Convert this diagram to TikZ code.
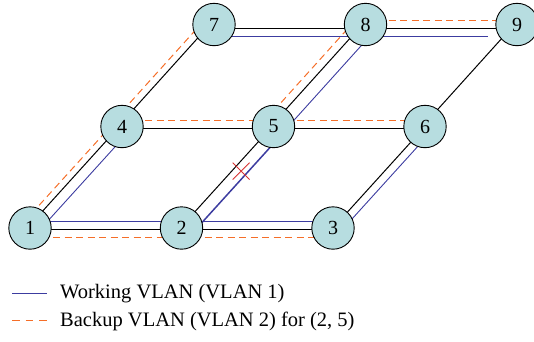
\documentclass[tikz,border=0pt]{standalone}
\usepackage{fontspec}
\setmainfont{Liberation Serif}
\usetikzlibrary{calc,backgrounds,shapes.misc}
\definecolor{nodefill}{RGB}{183,221,224}
\definecolor{vlanblue}{RGB}{60,60,160}
\definecolor{vlanorange}{RGB}{245,110,40}
\definecolor{cutred}{RGB}{215,50,50}

% line between two nodes, shifted sideways by #4 (positive = left of the #2 -> #3 direction)
\newcommand\lnk[4][]{\draw[#1] ($(#2.center)!#4!90:(#3.center)$) -- ($(#3.center)!#4!270:(#2.center)$);}

\begin{document}
\begin{tikzpicture}[x=1pt,y=-1pt,
  switch/.style={circle, draw=black, line width=0.9pt, fill=nodefill,
    minimum size=42.4pt, inner sep=0pt, font=\fontsize{20}{20}\selectfont},
  phys/.style={draw=black, line width=1pt},
  work/.style={draw=vlanblue, line width=0.9pt},
  workbold/.style={draw=vlanblue, line width=1.5pt},
  backup/.style={draw=vlanorange, line width=1pt, dash pattern=on 7pt off 4.5pt},
  legbackup/.style={draw=vlanorange, line width=1pt, dash pattern=on 7.5pt off 6pt},
  legendtext/.style={anchor=west, font=\fontsize{20.5}{22}\selectfont, inner sep=0pt}
]
\useasboundingbox (0,0) rectangle (534,341);

% switches
\node[switch] (n1) at (30,228)    {1};
\node[switch] (n2) at (181.5,228) {2};
\node[switch] (n3) at (333,228)   {3};
\node[switch] (n4) at (122,126.5) {4};
\node[switch] (n5) at (273.5,126.5) {5};
\node[switch] (n6) at (425,126.5) {6};
\node[switch] (n7) at (214,24.5)  {7};
\node[switch] (n8) at (365.5,24.5) {8};
\node[switch] (n9) at (517,24.5)  {9};

\begin{pgfonlayer}{background}
  % bottom row
  \lnk[phys]{n1}{n2}{-1.3pt}
  \lnk[workbold]{n1}{n2}{6.3pt}
  \lnk[backup]{n1}{n2}{-9.7pt}
  \lnk[phys]{n2}{n3}{-1.3pt}
  \lnk[work]{n2}{n3}{6.3pt}
  \lnk[backup]{n2}{n3}{-9.7pt}
  % middle row
  \lnk[phys]{n4}{n5}{-1.8pt}
  \lnk[backup]{n4}{n5}{6.5pt}
  \lnk[phys]{n5}{n6}{-1.8pt}
  \lnk[backup]{n5}{n6}{6.5pt}
  % top row
  \lnk[phys]{n7}{n8}{-4pt}
  \lnk[work]{n7}{n8}{-12.3pt}
  \lnk[phys]{n8}{n9}{-4pt}
  \lnk[backup]{n8}{n9}{4.2pt}
  \lnk[work,shorten >=29pt]{n8}{n9}{-12.3pt}
  % diagonals
  \lnk[phys]{n1}{n4}{2pt}
  \lnk[backup]{n1}{n4}{8.5pt}
  \lnk[work]{n1}{n4}{-8.5pt}
  \lnk[phys]{n2}{n5}{1pt}
  \lnk[workbold]{n2}{n5}{-11.5pt}
  \lnk[phys]{n3}{n6}{0pt}
  \lnk[work]{n3}{n6}{-8pt}
  \lnk[phys]{n4}{n7}{3pt}
  \lnk[backup]{n4}{n7}{10pt}
  \lnk[phys]{n5}{n8}{2.3pt}
  \lnk[backup]{n5}{n8}{10.4pt}
  \lnk[work]{n5}{n8}{-11pt}
  \lnk[phys]{n6}{n9}{2pt}
\end{pgfonlayer}

% failed link between 2 and 5
\coordinate (cutmid) at ($(n2.center)!0.6!(n5.center)$);
\coordinate (cutpos) at ($(cutmid)!6pt!-90:(n5.center)$);
\node[cross out, draw=cutred, line width=0.8pt, minimum size=16pt, inner sep=0pt] (cut) at (cutpos) {};

% legend
\coordinate (la1) at (12,293);
\coordinate (lb1) at (47,293);
\draw[work] (la1) -- (lb1);
\node[legendtext] (lt1) at (60,294) {Working VLAN (VLAN 1)};
\coordinate (la2) at (12,320);
\coordinate (lb2) at (47,320);
\draw[legbackup] (la2) -- (lb2);
\node[legendtext] (lt2) at (60,321) {Backup VLAN (VLAN 2) for (2, 5)};
\end{tikzpicture}
\end{document}
